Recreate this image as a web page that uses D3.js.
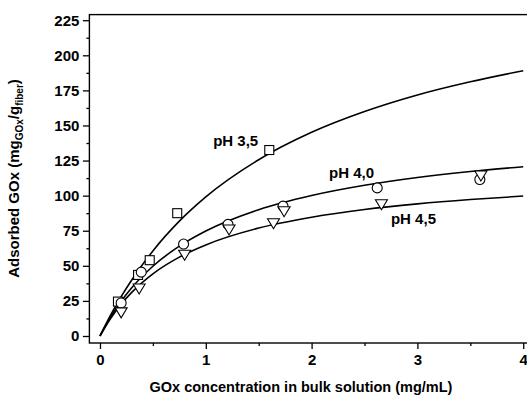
<!DOCTYPE html>
<html>
<head>
<meta charset="utf-8">
<script src="https://cdn.jsdelivr.net/npm/d3@7"></script>
<style>
  html, body { margin: 0; padding: 0; background: #fff; }
  svg { display: block; }
  text { font-family: "Liberation Sans", Arial, sans-serif; font-weight: bold; fill: #000; }
</style>
</head>
<body>
<svg id="chart" width="527" height="398"></svg>
<script>
// Measured adsorption of GOx on fibers at three pH values
const squareConc = [0.17, 0.36, 0.47, 0.73, 1.60];          // pH 3,5
const squareAds  = [24.5, 43.5, 54.0, 87.5, 132.5];
const circleConc = [0.20, 0.39, 0.79, 1.21, 1.73, 2.62, 3.59]; // pH 4,0
const circleAds  = [23.5, 45.5, 65.5, 79.5, 92.5, 105.5, 111.5];
const triConc    = [0.20, 0.37, 0.80, 1.22, 1.64, 1.74, 2.66, 3.60]; // pH 4,5
const triAds     = [16.5, 33.5, 57.5, 75.5, 80.0, 88.5, 93.5, 114.0];

// Isotherm fit curves, sampled along the concentration axis
const fitConc = [0, 0.1, 0.2, 0.3, 0.5, 0.75, 1, 1.5, 2, 2.5, 3, 3.5, 4];
const fitPH35 = [0, 14.8, 28.0, 39.9, 60.6, 81.8, 99.1, 125.6, 145.1, 159.9, 171.7, 181.1, 189.0];
const fitPH40 = [0, 13.5, 24.7, 34.3, 49.7, 64.0, 74.8, 90.0, 100.1, 107.4, 112.9, 117.2, 120.6];
const fitPH45 = [0, 12.5, 22.7, 31.1, 44.3, 56.2, 64.9, 76.9, 84.6, 90.1, 94.1, 97.2, 99.7];

// Curve labels
const labelText = ["pH 3,5", "pH 4,0", "pH 4,5"];
const labelConc = [1.07, 2.165, 2.75];
const labelAds  = [135.3, 112.9, 79.8];

// Axis ticks
const xMajor = [0, 1, 2, 3, 4];
const xMinor = [0.5, 1.5, 2.5, 3.5];
const yMajor = [0, 25, 50, 75, 100, 125, 150, 175, 200, 225];
const yMinor = [12.5, 37.5, 62.5, 87.5, 112.5, 137.5, 162.5, 187.5, 212.5];

const svg = d3.select("#chart");
const x = d3.scaleLinear().domain([-0.1, 4.1]).range([89.4, 533.8]);
const y = d3.scaleLinear().domain([-5, 229]).range([343.0, 14.6]);
const fs = 15;

// Axes (ticks only; the frame is drawn separately)
function styleAxis(g) {
  g.select(".domain").remove();
  g.selectAll(".tick line").attr("stroke", "#000").attr("stroke-width", 1.3);
  g.selectAll(".tick text").style("font-size", fs + "px").attr("fill", "#000");
}
svg.append("g").attr("transform", `translate(0,${y(-5)})`)
  .call(d3.axisBottom(x).tickValues(xMinor).tickSize(3).tickFormat(""))
  .call(styleAxis);
svg.append("g").attr("transform", `translate(0,${y(-5)})`)
  .call(d3.axisBottom(x).tickValues(xMajor).tickSize(6).tickPadding(5.5).tickFormat(d3.format("d")))
  .call(styleAxis);
svg.append("g").attr("transform", `translate(${x(-0.1)},0)`)
  .call(d3.axisLeft(y).tickValues(yMinor).tickSize(3).tickFormat(""))
  .call(styleAxis);
svg.append("g").attr("transform", `translate(${x(-0.1)},0)`)
  .call(d3.axisLeft(y).tickValues(yMajor).tickSize(6.5).tickPadding(3.5).tickFormat(d3.format("d")))
  .call(styleAxis);

// Plot frame
svg.append("rect")
  .attr("x", x(-0.1)).attr("y", y(229))
  .attr("width", x(4.1) - x(-0.1)).attr("height", y(-5) - y(229))
  .attr("fill", "none").attr("stroke", "#000").attr("stroke-width", 1.4);

// Fit curves
const line = d3.line().x((d, i) => x(fitConc[i])).y(d => y(d)).curve(d3.curveMonotoneX);
[fitPH35, fitPH40, fitPH45].forEach(s => {
  svg.append("path").attr("d", line(s))
    .attr("fill", "none").attr("stroke", "#000").attr("stroke-width", 1.6);
});

// Markers
const mk = { fill: "#fff", stroke: "#000", sw: 1.1 };
svg.append("g").selectAll("rect").data(squareAds).join("rect")
  .attr("x", (d, i) => x(squareConc[i]) - 4.5).attr("y", d => y(d) - 4.5)
  .attr("width", 9).attr("height", 9)
  .attr("fill", mk.fill).attr("stroke", mk.stroke).attr("stroke-width", mk.sw);
svg.append("g").selectAll("circle").data(circleAds).join("circle")
  .attr("cx", (d, i) => x(circleConc[i])).attr("cy", d => y(d)).attr("r", 5)
  .attr("fill", mk.fill).attr("stroke", mk.stroke).attr("stroke-width", mk.sw);
svg.append("g").selectAll("path").data(triAds).join("path")
  .attr("d", (d, i) => {
    const cx = x(triConc[i]), cy = y(d);
    return `M${cx - 6},${cy - 5}L${cx + 6},${cy - 5}L${cx},${cy + 5}Z`;
  })
  .attr("fill", mk.fill).attr("stroke", mk.stroke).attr("stroke-width", mk.sw);

// Curve labels
svg.append("g").selectAll("text").data(labelText).join("text")
  .attr("x", (d, i) => x(labelConc[i])).attr("y", (d, i) => y(labelAds[i]))
  .style("font-size", fs + "px").text(d => d);

// Axis titles
svg.append("text")
  .attr("x", 301).attr("y", 392).attr("text-anchor", "middle")
  .style("font-size", "14.5px")
  .text("GOx concentration in bulk solution (mg/mL)");

const yt = svg.append("text")
  .attr("transform", "translate(19,178.5) rotate(-90)")
  .attr("text-anchor", "middle")
  .style("font-size", "15px");
yt.append("tspan").text("Adsorbed GOx (mg");
yt.append("tspan").attr("dy", 4).style("font-size", "10px").text("GOx");
yt.append("tspan").attr("dy", -4).text("/g");
yt.append("tspan").attr("dy", 4).style("font-size", "10px").text("fiber");
yt.append("tspan").attr("dy", -4).text(")");
</script>
</body>
</html>
